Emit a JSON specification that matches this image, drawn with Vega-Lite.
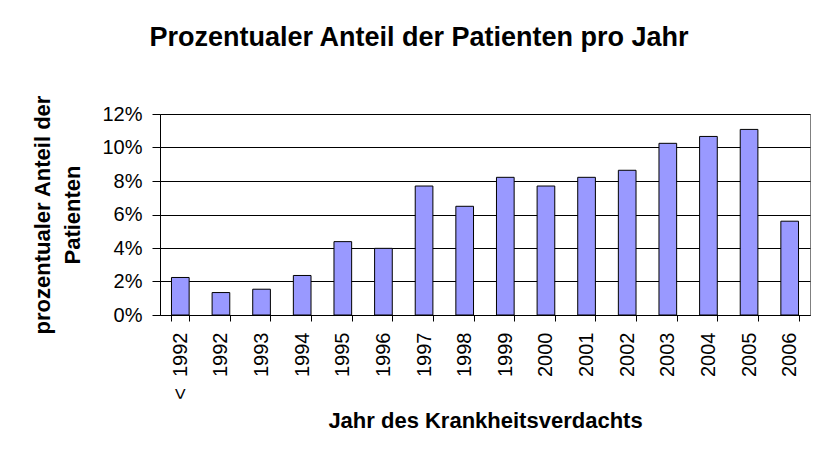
{
  "$schema": "https://vega.github.io/schema/vega-lite/v6.json",
  "width": 650,
  "height": 201,
  "autosize": {"type": "none"},
  "padding": {"left": 160, "top": 114, "right": 7, "bottom": 140},
  "background": "white",
  "title": {
    "text": "Prozentualer Anteil der Patienten pro Jahr",
    "font": "Liberation Sans",
    "fontSize": 27,
    "fontWeight": "bold",
    "color": "black",
    "anchor": "middle",
    "dx": -66,
    "offset": 43
  },
  "config": {
    "view": {"stroke": "#808080", "strokeWidth": 1},
    "font": "Liberation Sans"
  },
  "data": {
    "values": [
      {"jahr": "<\u00a0\u00a01992", "anteil": 0.0224},
      {"jahr": "1992", "anteil": 0.0134},
      {"jahr": "1993", "anteil": 0.0154},
      {"jahr": "1994", "anteil": 0.0236},
      {"jahr": "1995", "anteil": 0.0438},
      {"jahr": "1996", "anteil": 0.0398},
      {"jahr": "1997", "anteil": 0.0770},
      {"jahr": "1998", "anteil": 0.0649},
      {"jahr": "1999", "anteil": 0.0822},
      {"jahr": "2000", "anteil": 0.0770},
      {"jahr": "2001", "anteil": 0.0822},
      {"jahr": "2002", "anteil": 0.0864},
      {"jahr": "2003", "anteil": 0.1025},
      {"jahr": "2004", "anteil": 0.1066},
      {"jahr": "2005", "anteil": 0.1108},
      {"jahr": "2006", "anteil": 0.0560}
    ]
  },
  "mark": {"type": "bar", "fill": "#9999FF", "stroke": "black", "strokeWidth": 1},
  "encoding": {
    "x": {
      "field": "jahr",
      "type": "nominal",
      "sort": null,
      "scale": {"paddingInner": 0.565, "paddingOuter": 0.2825},
      "axis": {
        "title": "Jahr des Krankheitsverdachts",
        "titleFont": "Liberation Sans",
        "titleFontSize": 22,
        "titleFontWeight": "bold",
        "titleColor": "black",
        "titlePadding": 11,
        "labelAngle": -90,
        "labelFont": "Liberation Sans",
        "labelFontSize": 20,
        "labelColor": "black",
        "labelPadding": 11,
        "tickBand": "extent",
        "tickSize": 6,
        "tickColor": "black",
        "domainColor": "black",
        "grid": false
      }
    },
    "y": {
      "field": "anteil",
      "type": "quantitative",
      "scale": {"domain": [0, 0.12], "nice": false},
      "axis": {
        "title": ["prozentualer Anteil der", "Patienten"],
        "titleFont": "Liberation Sans",
        "titleFontSize": 22,
        "titleFontWeight": "bold",
        "titleColor": "black",
        "titleLineHeight": 30,
        "titlePadding": 17,
        "format": ".0%",
        "values": [0, 0.02, 0.04, 0.06, 0.08, 0.1, 0.12],
        "labelFont": "Liberation Sans",
        "labelFontSize": 20,
        "labelColor": "black",
        "labelPadding": 10,
        "tickSize": 8,
        "tickColor": "black",
        "domainColor": "black",
        "grid": true,
        "gridColor": "black",
        "gridWidth": 1
      }
    }
  }
}
